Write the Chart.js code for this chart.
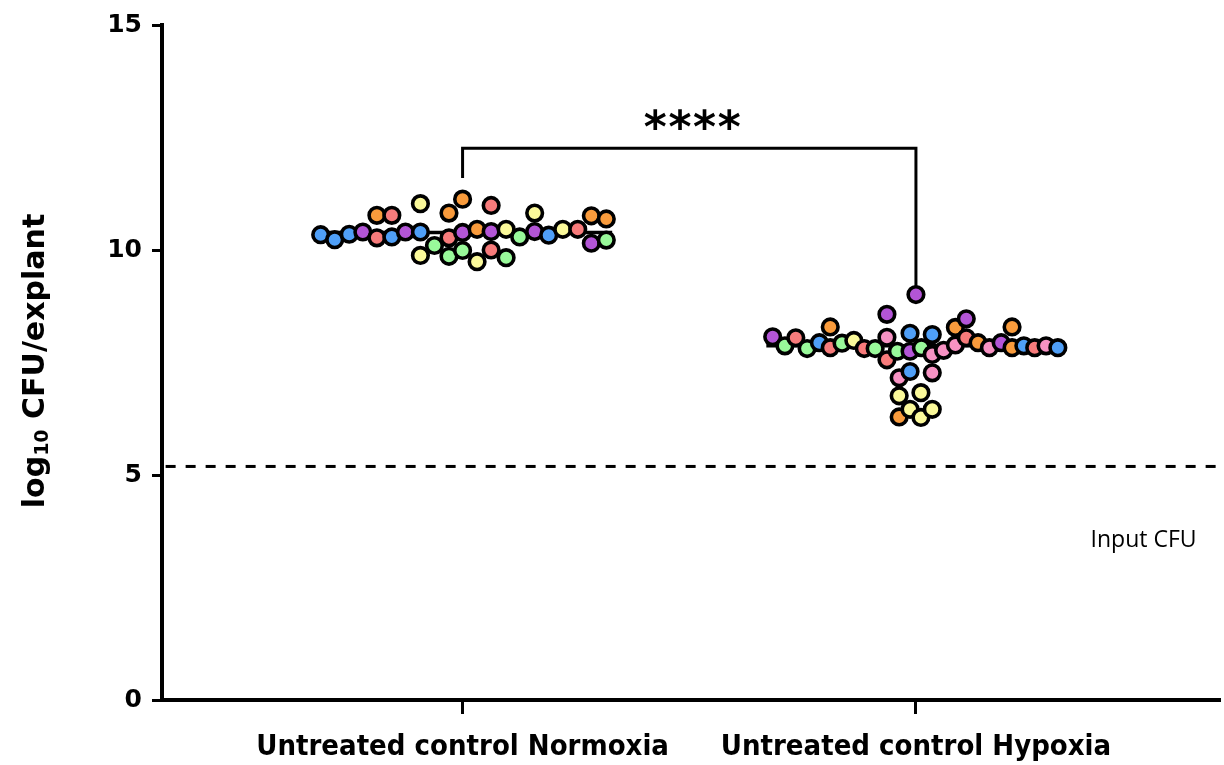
<!DOCTYPE html>
<html>
<head>
<meta charset="utf-8">
<script src="https://cdn.jsdelivr.net/npm/chart.js@4/dist/chart.umd.min.js"></script>
<style>
  html, body { margin: 0; padding: 0; background: #ffffff; overflow: hidden; }
  #wrap { width: 1224px; height: 765px; position: relative; overflow: hidden; }
</style>
</head>
<body>
<div id="wrap"><canvas id="c" width="1232" height="765"></canvas></div>
<script>
// ---------------- DATA ----------------
const categories = ['Untreated control Normoxia', 'Untreated control Hypoxia'];
const yTickValues = [0, 5, 10, 15];

// log10 CFU/explant, Normoxia
const normoxiaValues = [10.34, 10.23, 10.35, 10.40, 10.77, 10.77, 10.27, 10.29, 10.40, 10.40,
  11.03, 9.88, 10.10, 10.82, 11.13, 10.27, 9.86, 10.39, 9.99, 9.74,
  10.46, 10.41, 10.99, 10.00, 10.46, 9.83, 10.29, 10.41, 10.82, 10.33,
  10.46, 10.46, 10.76, 10.69, 10.15, 10.22];
// horizontal swarm offset (in category widths)
const normoxiaSwarm = [-0.313, -0.282, -0.250, -0.220, -0.189, -0.156, -0.189, -0.156, -0.126, -0.093,
  -0.093, -0.093, -0.062, -0.030, 0.000, -0.030, -0.030, 0.000, 0.000, 0.032,
  0.032, 0.063, 0.063, 0.063, 0.096, 0.096, 0.126, 0.159, 0.159, 0.190,
  0.221, 0.254, 0.284, 0.317, 0.284, 0.317];
const normoxiaDonor = ['blue','blue','blue','purple','orange','red','red','blue','purple','blue',
  'yellow','yellow','green','orange','orange','red','green','purple','green','yellow',
  'orange','purple','red','red','yellow','green','green','purple','yellow','blue',
  'yellow','red','orange','orange','purple','green'];

// log10 CFU/explant, Hypoxia
const hypoxiaValues = [8.07, 7.87, 8.05, 7.81, 7.94, 8.29, 7.83, 7.93, 7.99, 7.81,
  7.81, 8.57, 8.06, 7.56, 7.75, 7.16, 6.76, 6.29, 9.01, 8.15,
  7.75, 7.30, 6.46, 7.83, 6.83, 6.28, 8.12, 7.68, 7.27, 6.46,
  7.77, 7.89, 8.28, 8.47, 8.05, 7.94, 7.83, 7.94, 8.29, 7.83,
  7.87, 7.83, 7.87, 7.83];
const hypoxiaSwarm = [-0.316, -0.289, -0.265, -0.240, -0.213, -0.189, -0.189, -0.163, -0.137, -0.114,
  -0.090, -0.064, -0.064, -0.064, -0.041, -0.037, -0.037, -0.037, 0.000, -0.013,
  -0.013, -0.013, -0.013, 0.012, 0.011, 0.011, 0.036, 0.036, 0.036, 0.036,
  0.061, 0.087, 0.087, 0.111, 0.111, 0.137, 0.162, 0.188, 0.212, 0.212,
  0.238, 0.262, 0.287, 0.313];
const hypoxiaDonor = ['purple','green','red','green','blue','orange','red','green','yellow','red',
  'green','purple','pink','red','green','pink','yellow','orange','purple','blue',
  'purple','blue','yellow','green','yellow','yellow','blue','pink','pink','yellow',
  'pink','pink','orange','purple','red','orange','pink','purple','orange','orange',
  'blue','red','pink','blue'];

const medians = [10.39, 7.87];
const inputCFU = 5.19;
const significance = '****';
const bracketEnds = [11.6, 9.1];   // lower ends of the bracket legs
const bracketTop = 12.26;

// ---------------- STYLES ----------------
const palette = {
  blue: '#4f9ff7', purple: '#b355d6', red: '#f77b7b', orange: '#f99b3c',
  yellow: '#fbf99a', green: '#99f99a', pink: '#f792c3'
};
const X_MIN = 0.337, X_MAX = 2.672, HALF = 0.33;
const R = 7.8, BW = 3.6;

function pts(vals, swarm, center) {
  return vals.map((v, i) => ({ x: center + swarm[i], y: v }));
}

const datasets = [
  {
    type: 'scatter', label: categories[0], order: 0,
    data: pts(normoxiaValues, normoxiaSwarm, 1),
    pointRadius: R, pointHoverRadius: R, pointBorderWidth: BW, pointBorderColor: '#000',
    pointBackgroundColor: normoxiaDonor.map(d => palette[d]), showLine: false
  },
  {
    type: 'scatter', label: categories[1], order: 0,
    data: pts(hypoxiaValues, hypoxiaSwarm, 2),
    pointRadius: R, pointHoverRadius: R, pointBorderWidth: BW, pointBorderColor: '#000',
    pointBackgroundColor: hypoxiaDonor.map(d => palette[d]), showLine: false
  },
  // medians
  ...medians.map((m, i) => ({
    type: 'line', order: 2,
    data: [{ x: i + 1 - HALF, y: m }, { x: i + 1 + HALF, y: m }],
    borderColor: '#000', borderWidth: 3.5, pointRadius: 0, fill: false
  })),
  // input CFU dashed line
  {
    type: 'line', order: 3,
    data: [{ x: X_MIN + 0.008, y: inputCFU }, { x: X_MAX, y: inputCFU }],
    borderColor: '#000', borderWidth: 3, borderDash: [10, 10], pointRadius: 0, fill: false
  },
  // significance bracket
  {
    type: 'line', order: 3,
    data: [{ x: 1, y: bracketEnds[0] }, { x: 1, y: bracketTop }, { x: 2, y: bracketTop }, { x: 2, y: bracketEnds[1] }],
    borderColor: '#000', borderWidth: 3, pointRadius: 0, fill: false, borderJoinStyle: 'miter'
  }
];

const annot = {
  id: 'annot',
  afterDatasetsDraw(chart) {
    const { ctx, scales: { x, y } } = chart;
    ctx.save();
    // stars
    ctx.fillStyle = '#000';
    ctx.font = 'bold 44px "DejaVu Sans"';
    ctx.textAlign = 'center';
    ctx.textBaseline = 'middle';
    const cx = x.getPixelForValue(1.5) + 3;
    const cy = y.getPixelForValue(12.85) + 9;
    const n = significance.length;
    for (let i = 0; i < n; i++) {
      ctx.fillText(significance[i], cx + (i - (n - 1) / 2) * 24.7, cy);
    }
    // Input CFU label
    ctx.font = '23px "Open Sans"';
    ctx.fillText('Input CFU', x.getPixelForValue(2.502), y.getPixelForValue(3.55));
    ctx.restore();

    // y axis title with subscript
    ctx.save();
    ctx.translate(36, 361);
    ctx.rotate(-Math.PI / 2);
    ctx.fillStyle = '#000';
    ctx.textBaseline = 'middle';
    ctx.textAlign = 'left';
    const big = 'bold 30px "DejaVu Sans"';
    const small = 'bold 19px "DejaVu Sans"';
    const parts = [['log', big, 0], ['10', small, 7], [' CFU/explant', big, 0]];
    let total = 0;
    parts.forEach(p => { ctx.font = p[1]; total += ctx.measureText(p[0]).width; });
    let px = -total / 2;
    parts.forEach(p => { ctx.font = p[1]; ctx.fillText(p[0], px, p[2]); px += ctx.measureText(p[0]).width; });
    ctx.restore();
  }
};

new Chart(document.getElementById('c'), {
  type: 'scatter',
  data: { datasets },
  options: {
    responsive: false,
    animation: false,
    layout: { padding: { left: 0, right: 2, top: 21, bottom: 0 } },
    plugins: { legend: { display: false }, tooltip: { enabled: false } },
    scales: {
      x: {
        type: 'linear', min: X_MIN, max: X_MAX,
        afterBuildTicks: s => { s.ticks = [{ value: 1 }, { value: 2 }]; },
        afterFit: s => { s.height = 65; s.paddingLeft = 0; s.paddingRight = 0; },
        ticks: {
          callback: v => categories[Math.round(v) - 1],
          color: '#000', padding: 16, maxRotation: 0, autoSkip: false,
          font: { family: '"Liberation Sans Narrow", "DejaVu Sans Condensed", Arial', weight: 'bold', size: 29 }
        },
        grid: { drawOnChartArea: false, tickLength: 14, tickWidth: 3, tickColor: '#000' },
        border: { display: true, color: '#000', width: 4 }
      },
      y: {
        min: 0, max: 15,
        afterBuildTicks: s => { s.ticks = yTickValues.map(v => ({ value: v })); },
        afterFit: s => { s.width = 162; },
        ticks: {
          color: '#000', padding: 10,
          font: { family: '"DejaVu Sans"', weight: 'bold', size: 25 }
        },
        grid: { drawOnChartArea: false, tickLength: 10, tickWidth: 3, tickColor: '#000' },
        border: { display: true, color: '#000', width: 4 }
      }
    }
  },
  plugins: [annot]
});
</script>
</body>
</html>
